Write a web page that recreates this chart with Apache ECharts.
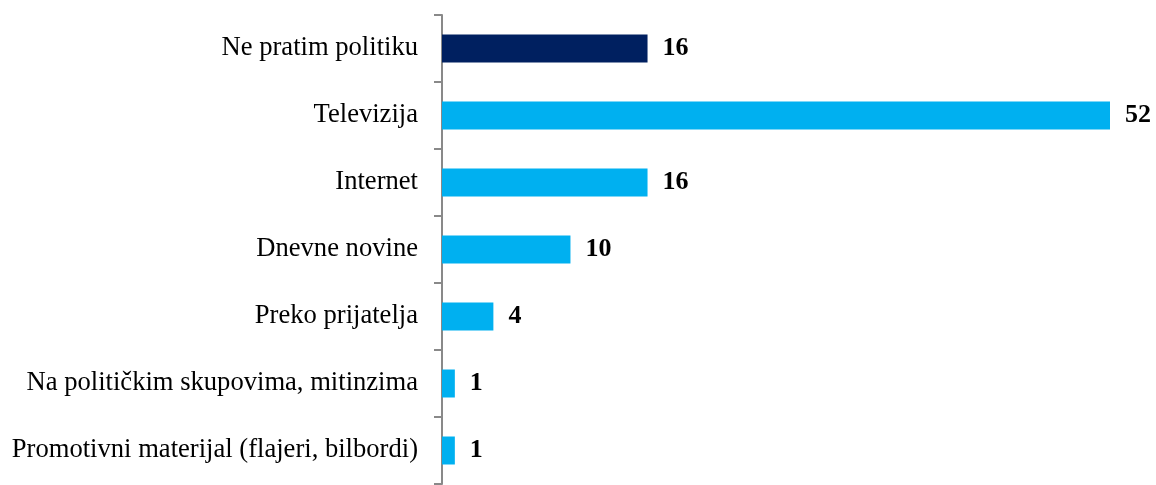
<!DOCTYPE html>
<html>
<head>
<meta charset="utf-8">
<script src="https://cdn.jsdelivr.net/npm/echarts@6/dist/echarts.min.js"></script>
<style>
  html, body { margin: 0; padding: 0; background: #fff; }
  #chart { width: 1156px; height: 485px; }
</style>
</head>
<body>
<div id="chart"></div>
<script>
// categories top to bottom
const categories = [
    'Ne pratim politiku',
    'Televizija',
    'Internet',
    'Dnevne novine',
    'Preko prijatelja',
    'Na političkim skupovima, mitinzima',
    'Promotivni materijal (flajeri, bilbordi)'
];
const values = [16, 52, 16, 10, 4, 1, 1];
const barColors = ['#002060', '#00B0F0', '#00B0F0', '#00B0F0', '#00B0F0', '#00B0F0', '#00B0F0'];

const chart = echarts.init(document.getElementById('chart'));

const option = {
    animation: false,
    textStyle: {
        fontFamily: '"Liberation Serif", "Times New Roman", serif'
    },
    grid: {
        left: 442,
        right: 46,
        top: 15,
        bottom: 1
    },
    xAxis: {
        type: 'value',
        min: 0,
        max: 52,
        show: false
    },
    yAxis: {
        type: 'category',
        inverse: true,
        data: categories,
        axisLine: {
            lineStyle: { color: '#898989', width: 2 }
        },
        axisTick: {
            show: true,
            length: 8,
            lineStyle: { color: '#898989', width: 2 }
        },
        axisLabel: {
            color: '#000',
            fontSize: 26.6,
            margin: 24
        }
    },
    series: [{
        type: 'bar',
        barWidth: 28,
        data: values.map((v, i) => ({ value: v, itemStyle: { color: barColors[i] } })),
        label: {
            show: true,
            position: 'right',
            distance: 15,
            color: '#000',
            fontSize: 26,
            fontWeight: 'bold',
            fontFamily: '"Liberation Serif", "Times New Roman", serif'
        }
    }]
};

chart.setOption(option);
</script>
</body>
</html>
